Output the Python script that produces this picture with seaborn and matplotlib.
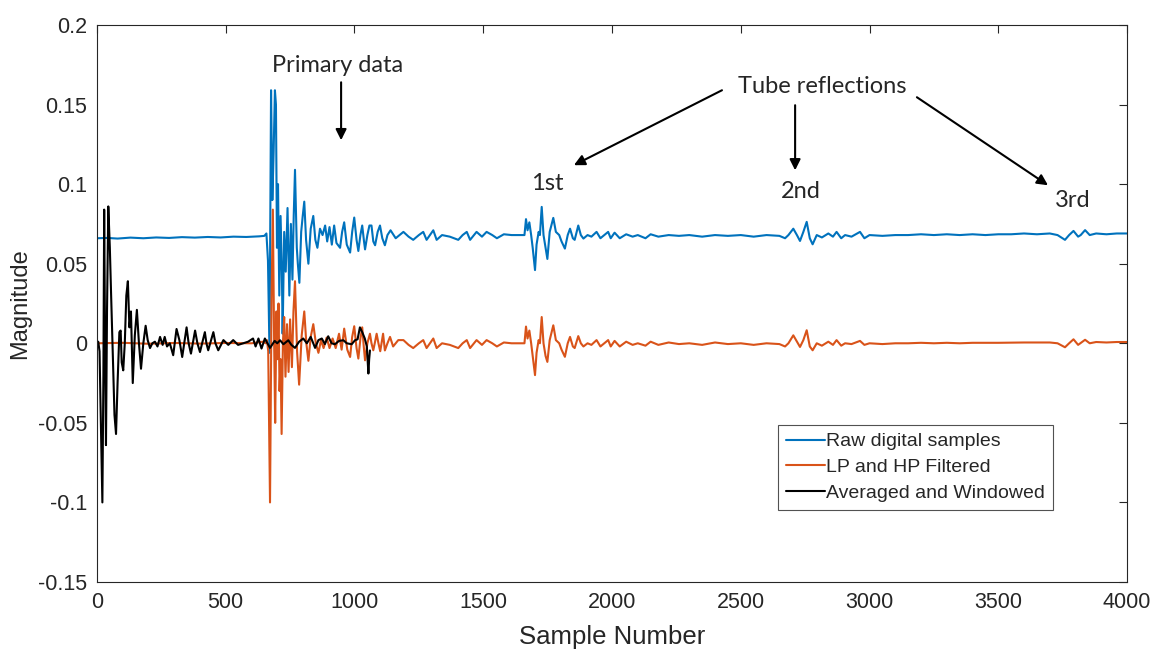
import matplotlib
matplotlib.use("Agg")
import matplotlib.pyplot as plt
import seaborn as sns

# ---------------- data ----------------
raw_samples = [0, 40, 80, 130, 180, 230, 280, 330, 380, 430, 480, 530, 580, 630, 650, 658, 664, 670, 676, 681,
               686, 691, 695, 699, 703, 708, 713, 718, 721, 727, 733, 740, 747, 753, 759, 764, 769, 776, 780, 786,
               793, 799, 805, 812, 821, 830, 840, 848, 856, 866, 876, 886, 894, 903, 912, 921, 930, 944, 952, 960,
               970, 983, 991, 999, 1008, 1015, 1023, 1030, 1037, 1041, 1050, 1058, 1066, 1073, 1080, 1090, 1099,
               1108, 1118, 1128, 1140, 1160, 1190, 1210, 1228, 1250, 1267, 1280, 1306, 1319, 1340, 1370, 1403,
               1420, 1436, 1449, 1474, 1495, 1513, 1535, 1553, 1580, 1610, 1640, 1660,
               1666, 1672, 1679, 1686, 1692, 1701, 1707, 1715, 1720, 1727, 1734, 1742, 1749, 1758, 1772, 1782,
               1795, 1804, 1817, 1828, 1837, 1848, 1855, 1869, 1879, 1889, 1905, 1920, 1940, 1955, 1970, 1985,
               1995, 2010, 2030, 2055, 2080, 2100, 2130, 2150, 2180, 2220, 2260, 2300, 2350, 2400, 2450, 2500,
               2550, 2600, 2650,
               2672, 2685, 2704, 2718, 2730, 2743, 2756, 2768, 2779, 2795, 2815, 2840, 2858, 2872, 2890, 2905,
               2930, 2963, 2980, 3000, 3050, 3100, 3150, 3200, 3250, 3300, 3350, 3400, 3450, 3500, 3550, 3600,
               3650, 3700, 3730, 3759, 3775, 3792, 3810, 3820, 3837, 3855, 3880, 3920, 3960, 4000]
raw_values = [0.066, 0.0662, 0.0658, 0.0664, 0.066, 0.0665, 0.0662, 0.0667, 0.0664, 0.0668, 0.0665, 0.067, 0.0668,
              0.0672, 0.0675, 0.069, 0.052, -0.006, 0.159, 0.09,
              0.12, 0.159, 0.15, 0.06, 0.1, 0.03, 0.08, 0.045, 0.006, 0.07, 0.045, 0.085, 0.03, 0.075, 0.04, 0.08,
              0.109, 0.06, 0.05, 0.038,
              0.07, 0.08, 0.089, 0.065, 0.05, 0.072, 0.08, 0.065, 0.06, 0.072, 0.068, 0.074, 0.064, 0.073, 0.062,
              0.074, 0.063, 0.06, 0.07, 0.076,
              0.062, 0.057, 0.07, 0.079, 0.065, 0.058, 0.068, 0.074, 0.064, 0.059, 0.068, 0.074, 0.074, 0.064,
              0.0616, 0.07, 0.074,
              0.066, 0.0616, 0.068, 0.071, 0.066, 0.07, 0.067, 0.065, 0.068, 0.07, 0.065, 0.071, 0.065, 0.068,
              0.067, 0.065,
              0.068, 0.07, 0.065, 0.07, 0.067, 0.07, 0.068, 0.066, 0.0685, 0.068, 0.068, 0.068,
              0.078, 0.071, 0.076, 0.068, 0.06, 0.046, 0.062, 0.07, 0.068, 0.0857, 0.068, 0.06, 0.053, 0.07,
              0.0788, 0.07,
              0.068, 0.064, 0.0595, 0.068, 0.072, 0.066, 0.065, 0.074, 0.068, 0.0658, 0.068, 0.067, 0.07, 0.066,
              0.068, 0.07,
              0.066, 0.0695, 0.066, 0.0685, 0.067, 0.068, 0.066, 0.0685, 0.067, 0.068, 0.0675, 0.068, 0.067,
              0.068, 0.0675, 0.068,
              0.067, 0.068, 0.0675,
              0.066, 0.068, 0.072, 0.068, 0.0643, 0.07, 0.0763, 0.066, 0.0622, 0.068, 0.0665, 0.069, 0.067, 0.07,
              0.066, 0.068,
              0.067, 0.07, 0.066, 0.068, 0.0675, 0.068, 0.068, 0.0685, 0.068, 0.0685, 0.068, 0.0685, 0.068,
              0.0685, 0.0685, 0.069,
              0.0685, 0.069, 0.068, 0.065, 0.068, 0.0706, 0.067, 0.068, 0.0711, 0.068, 0.069, 0.0685, 0.069, 0.069]

filt_samples = [0, 100, 200, 300, 400, 500, 600, 645, 655, 660, 665, 672, 678, 683, 688, 692, 697, 701, 705, 709,
                713, 717, 722, 727, 732, 738, 744, 750, 757, 763, 769, 777, 785, 795, 805, 813, 821, 830, 840, 850,
                860, 870, 880, 892, 903, 915, 927, 940, 950, 960, 972, 983, 991, 999, 1008, 1015, 1023, 1030, 1036,
                1041, 1050, 1060, 1066, 1073, 1080, 1086, 1093, 1100, 1111, 1118, 1128, 1138, 1150, 1170, 1190,
                1210, 1228, 1250, 1267, 1280, 1306, 1319, 1340, 1370, 1403, 1420, 1436, 1449, 1474, 1495, 1513,
                1535, 1553, 1580, 1610, 1640, 1660,
                1666, 1672, 1679, 1686, 1692, 1701, 1707, 1715, 1720, 1727, 1734, 1742, 1749, 1758, 1772, 1782,
                1795, 1804, 1817, 1828, 1837, 1848, 1855, 1869, 1879, 1889, 1905, 1920, 1940, 1955, 1970, 1985,
                1995, 2010, 2030, 2055, 2080, 2100, 2130, 2150, 2180, 2220, 2260, 2300, 2350, 2400, 2450, 2500,
                2550, 2600, 2650,
                2672, 2685, 2704, 2718, 2730, 2743, 2756, 2768, 2779, 2795, 2815, 2840, 2858, 2872, 2890, 2905,
                2930, 2963, 2980, 3000, 3050, 3100, 3150, 3200, 3250, 3300, 3350, 3400, 3500, 3600, 3700, 3730,
                3759, 3775, 3792, 3810, 3837, 3855, 3880, 3920, 3960, 4000]
filt_values = [0.0, 0.0003, -0.0003, 0.0002, -0.0002, 0.0002, 0.0, 0.001, 0.0, 0.002, -0.005, -0.1, 0.03, 0.084,
               0.0, -0.05, 0.02, -0.01, 0.025, -0.03,
               -0.01, -0.057, 0.0, 0.0165, -0.021, 0.012, -0.018, 0.015, -0.015, 0.02, 0.039, -0.005, -0.026,
               0.005, 0.02, 0.0, -0.011, 0.004, 0.012, 0.0,
               -0.006, 0.002, -0.003, 0.0036, -0.003, 0.003, -0.003, 0.006, -0.004, 0.0092, -0.004, -0.0086, 0.004,
               0.0107, -0.003, -0.0096, 0.003, 0.01, -0.002,
               -0.0107, 0.0, 0.006, 0.0, -0.0044, 0.001, 0.006, 0.0, -0.005, 0.006, -0.0045, 0.0, 0.004, -0.002,
               0.002, 0.002,
               -0.001, -0.003, 0.0, 0.002, -0.003, 0.003, -0.003, 0.0, -0.001, -0.003, 0.0, 0.002, -0.003, 0.002,
               -0.001, 0.002,
               0.0, -0.002, 0.0005, 0.0, 0.0, 0.0,
               0.0105, 0.003, 0.008, 0.0, -0.008, -0.02, -0.006, 0.002, 0.0, 0.0165, 0.0, -0.008, -0.0117, 0.002,
               0.0113, 0.002,
               0.0, -0.004, -0.0085, 0.0, 0.004, -0.002, -0.003, 0.0045, 0.0, -0.002, 0.0, -0.001, 0.002, -0.002,
               0.0, 0.002,
               -0.002, 0.0015, -0.002, 0.001, -0.001, 0.0, -0.0015, 0.001, -0.001, 0.0005, -0.0005, 0.0, -0.001,
               0.0005, -0.0005, 0.0,
               -0.001, 0.0, -0.0005,
               -0.002, 0.0, 0.005, 0.001, -0.0023, 0.002, 0.0082, -0.002, -0.0044, 0.0, -0.0015, 0.001, -0.001,
               0.002, -0.0015, 0.0,
               -0.0005, 0.0015, -0.001, 0.0, -0.0005, 0.0, 0.0, 0.0003, 0.0, 0.0003, 0.0, 0.0003, 0.0003, 0.0005,
               0.0005, 0.0,
               -0.0025, 0.0, 0.0025, -0.001, 0.0022, 0.0, 0.0008, 0.0005, 0.0008, 0.0008]

avg_samples = [0, 5, 10, 14, 21, 25, 28, 31, 35, 39, 44, 50, 55, 62, 68, 74, 80, 87, 92, 96, 102, 108, 114, 120,
               126, 132, 139, 147, 155, 163, 171, 180, 189, 197, 206, 215, 225, 235, 245, 255, 263, 272, 283, 296,
               309, 320, 331, 348, 356, 365, 381, 390, 400, 419, 425, 432, 452, 460, 471, 491, 510, 529, 548, 568,
               587, 606, 616, 627, 639, 652, 662, 672, 690, 700, 711, 724, 743, 755, 769, 785, 801, 815, 830, 847,
               860, 873, 885, 898, 911, 924, 940, 957, 970, 989, 1002, 1012, 1021, 1030, 1040, 1048, 1054, 1057,
               1060]
avg_values = [0.0, 0.001, -0.005, -0.04, -0.1, -0.02, 0.084, 0.01, -0.064, 0.02, 0.086, 0.06, 0.03, -0.01, -0.045,
              -0.057, -0.025, 0.007, 0.008, -0.012, -0.017, 0.0, 0.03, 0.039,
              0.01, 0.02, -0.025, 0.005, 0.021, 0.0, -0.016, 0.0, 0.011, 0.002, -0.003, 0.0, 0.001, -0.002, 0.004,
              -0.001, 0.004, -0.002, 0.0, -0.0075,
              0.009, 0.002, -0.0086, 0.01, 0.0, -0.0065, 0.008, 0.0, -0.0055, 0.007, 0.0, -0.0044, 0.007, 0.0,
              -0.0044, 0.002, -0.001, 0.002, -0.001, 0.0,
              0.001, 0.003, -0.002, 0.003, -0.0033, 0.003, 0.0, -0.0029, 0.0015, 0.0, 0.0019, -0.0006, 0.0019,
              -0.001, -0.0029, 0.001, 0.003, 0.0, 0.004, -0.0029,
              0.002, 0.003, -0.0005, 0.0044, 0.0, -0.0006, 0.0015, 0.0019, 0.0, -0.0006, 0.0019, 0.0025, 0.01,
              0.007, 0.003, -0.002, -0.019, -0.01,
              -0.0045]

series_labels = ["Raw digital samples", "LP and HP Filtered", "Averaged and Windowed"]
series_colors = ["#0072BD", "#D95319", "#000000"]

x_ticks = [0, 500, 1000, 1500, 2000, 2500, 3000, 3500, 4000]
y_ticks = [-0.15, -0.1, -0.05, 0, 0.05, 0.1, 0.15, 0.2]
y_tick_labels = ["-0.15", "-0.1", "-0.05", "0", "0.05", "0.1", "0.15", "0.2"]

# ---------------- plotting ----------------
sns.set_theme(style="white")
plt.rcParams["font.family"] = ["Liberation Sans", "DejaVu Sans"]
plt.rcParams["axes.unicode_minus"] = False

fig = plt.figure(figsize=(11.53, 6.51), dpi=100)
ax = fig.add_axes([0.0841, 0.106, 0.8934, 0.8556])

lw = 1.5
sns.lineplot(x=raw_samples, y=raw_values, ax=ax, color=series_colors[0], lw=lw,
             label=series_labels[0], sort=False, estimator=None)
sns.lineplot(x=filt_samples, y=filt_values, ax=ax, color=series_colors[1], lw=lw,
             label=series_labels[1], sort=False, estimator=None)
sns.lineplot(x=avg_samples, y=avg_values, ax=ax, color=series_colors[2], lw=lw,
             label=series_labels[2], sort=False, estimator=None)

ax.set_xlim(0, 4000)
ax.set_ylim(-0.15, 0.2)
ax.set_xticks(x_ticks)
ax.set_xticklabels([str(t) for t in x_ticks])
ax.set_yticks(y_ticks)
ax.set_yticklabels(y_tick_labels)
ax.tick_params(direction="in", top=True, right=True, length=6, width=0.8,
               labelsize=15.5, colors="#262626", pad=7)
for sp in ax.spines.values():
    sp.set_visible(True)
    sp.set_color("#262626")
    sp.set_linewidth(0.8)

ax.set_xlabel("Sample Number", fontsize=18.5, color="#262626", labelpad=9)
ax.set_ylabel("Magnitude", fontsize=17, color="#262626", labelpad=5)

leg = ax.legend(loc="upper left", bbox_to_anchor=(0.661, 0.282), borderaxespad=0,
                fontsize=14.0, frameon=True, fancybox=False, edgecolor="#262626",
                handlelength=2.0, handletextpad=0.1, labelspacing=0.42, borderpad=0.4)
leg.get_frame().set_linewidth(0.8)
for line in leg.get_lines():
    line.set_linewidth(1.5)

# ---------------- annotations ----------------
afont = ["Lato", "DejaVu Sans"]
arrow = dict(arrowstyle="-|>", color="black", lw=1.5, mutation_scale=16, shrinkA=0, shrinkB=0)
ax.text(936, 0.1747, "Primary data", ha="center", va="center", fontsize=17, family=afont)
ax.annotate("", xy=(948, 0.1276), xytext=(948, 0.164), arrowprops=arrow)
ax.text(2816, 0.1615, "Tube reflections", ha="center", va="center", fontsize=17, family=afont)
ax.annotate("", xy=(1852, 0.1119), xytext=(2427, 0.159), arrowprops=arrow)
ax.annotate("", xy=(2711, 0.1087), xytext=(2711, 0.1496), arrowprops=arrow)
ax.annotate("", xy=(3693, 0.0993), xytext=(3184, 0.1546), arrowprops=arrow)
ax.text(1748, 0.1006, "1st", ha="center", va="center", fontsize=17, family=afont)
ax.text(2734, 0.0955, "2nd", ha="center", va="center", fontsize=17, family=afont)
ax.text(3790, 0.0899, "3rd", ha="center", va="center", fontsize=17, family=afont)

fig.savefig("out.png", dpi=100)
